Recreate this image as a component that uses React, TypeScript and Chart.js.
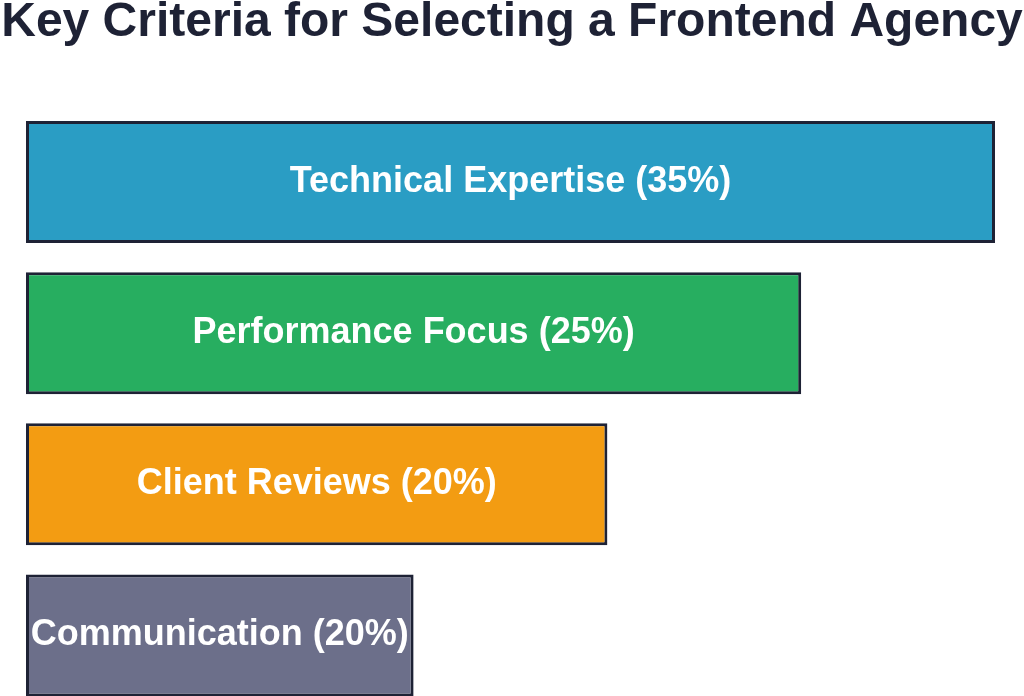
import React, { useEffect, useRef } from "react";
import { Chart, registerables } from "chart.js";

Chart.register(...registerables);

const TITLE = "Key Criteria for Selecting a Frontend Agency";
const categories = ["Technical Expertise", "Performance Focus", "Client Reviews", "Communication"];
const weights = [35, 25, 20, 20];
const barLengths = [100, 80, 60, 40];
const barColors = ["#2a9dc4", "#27ae60", "#f39c12", "#6c6f8a"];
const BORDER = "#1e2235";
const FONT = "'Liberation Sans', Arial, Helvetica, sans-serif";

const labelPlugin = {
  id: "barLabels",
  afterDatasetsDraw(chart: any) {
    const ctx = chart.ctx;
    const meta = chart.getDatasetMeta(0);
    ctx.save();
    ctx.fillStyle = "#ffffff";
    ctx.font = `bold 36px ${FONT}`;
    ctx.textAlign = "center";
    ctx.textBaseline = "middle";
    meta.data.forEach((bar: any, i: number) => {
      const p = bar.getProps(["x", "y", "base"], true);
      const cx = (p.x + p.base) / 2;
      ctx.fillText(`${categories[i]} (${weights[i]}%)`, cx, p.y);
    });
    ctx.restore();
  },
};

const titlePlugin = {
  id: "wideTitle",
  afterDraw(chart: any) {
    const ctx = chart.ctx;
    ctx.save();
    ctx.fillStyle = BORDER;
    ctx.font = `bold 48px ${FONT}`;
    ctx.textAlign = "center";
    ctx.textBaseline = "alphabetic";
    ctx.fillText(TITLE, chart.width / 2, 36);
    ctx.restore();
  },
};

export default function App() {
  const ref = useRef<HTMLCanvasElement | null>(null);
  useEffect(() => {
    if (!ref.current) return;
    const chart = new Chart(ref.current, {
      type: "bar",
      data: {
        labels: categories,
        datasets: [
          {
            data: barLengths,
            backgroundColor: barColors,
            borderColor: BORDER,
            borderWidth: 3,
            borderSkipped: false,
            barPercentage: 0.808,
            categoryPercentage: 1,
          },
        ],
      },
      options: {
        indexAxis: "y",
        animation: false,
        responsive: false,
        maintainAspectRatio: false,
        layout: { padding: { left: 26, right: 29, top: 106.5, bottom: 0 } },
        scales: {
          x: { display: false, min: 0, max: 100 },
          y: { display: false },
        },
        plugins: {
          legend: { display: false },
          tooltip: { enabled: false },
          title: { display: false },
        },
      },
      plugins: [labelPlugin, titlePlugin],
    });
    return () => chart.destroy();
  }, []);
  return (
    <div style={{ position: "fixed", top: 0, left: 0, width: 1024, height: 711, overflow: "hidden", background: "#fff" }}>
      <canvas ref={ref} width={1024} height={711} style={{ display: "block" }} />
    </div>
  );
}
